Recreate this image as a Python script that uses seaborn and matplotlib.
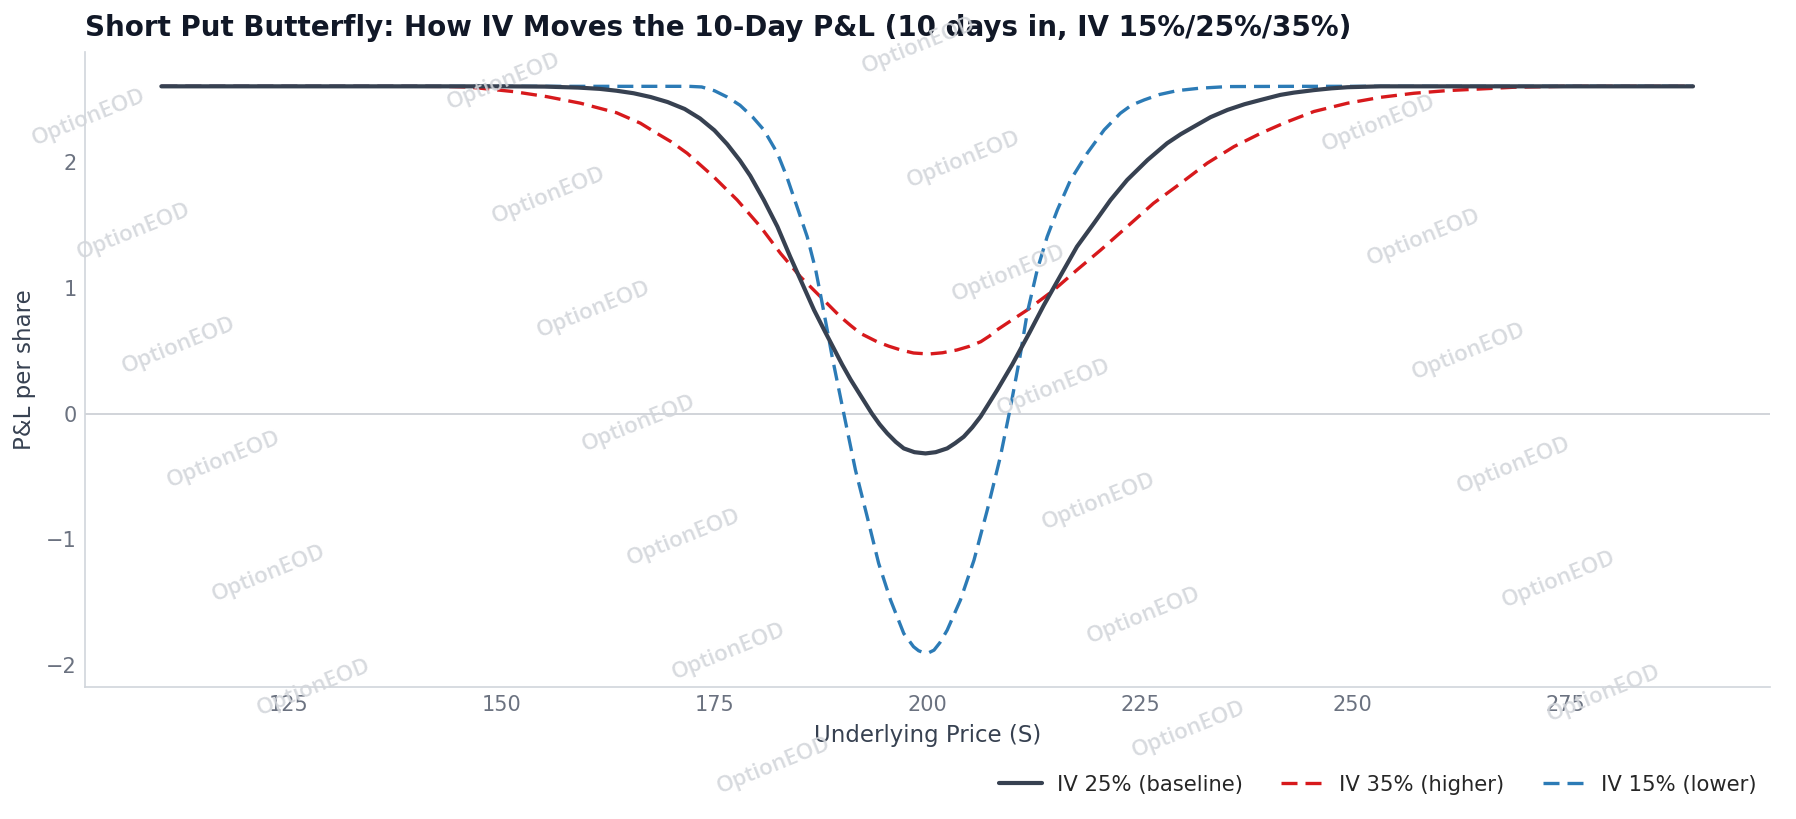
import numpy as np
import pandas as pd
import matplotlib
matplotlib.use("Agg")
import matplotlib.pyplot as plt
import seaborn as sns

# ---------------- data ----------------
title = "Short Put Butterfly: How IV Moves the 10-Day P&L (10 days in, IV 15%/25%/35%)"
x_label = "Underlying Price (S)"
y_label = "P&L per share"
series_labels = ["IV 25% (baseline)", "IV 35% (higher)", "IV 15% (lower)"]
x_ticks = [125, 150, 175, 200, 225, 250, 275]
y_ticks = [-2, -1, 0, 1, 2]

s_iv25 = [110, 150, 155, 159, 161.5, 163.5, 165.5, 167.5, 169.5, 171.5, 173.3, 175.0,
          176.5, 178.0, 179.2, 180.8, 182.4, 183.9, 185.3, 186.7, 188.0, 189.0, 190.0,
          191.0, 192.2, 193.5, 194.4, 195.3, 196.3, 197.25, 198.5, 199.8, 201.0, 202.35,
          203.3, 204.3, 205.3, 206.27, 207.2, 208.23, 210.0, 212.0, 213.7, 215.7, 217.6,
          219.6, 221.55, 223.5, 225.9, 228.2, 229.8, 231.35, 233.3, 235.3, 237.3, 239.2,
          241.5, 243.1, 245.45, 247.5, 249.4, 253.3, 290]
pnl_iv25 = [2.60, 2.60, 2.598, 2.59, 2.58, 2.565, 2.545, 2.515, 2.475, 2.42, 2.345, 2.25,
            2.14, 2.01, 1.89, 1.697, 1.485, 1.246, 1.035, 0.823, 0.65, 0.52, 0.39,
            0.27, 0.14, 0.0, -0.085, -0.157, -0.225, -0.277, -0.307, -0.317, -0.307, -0.277,
            -0.235, -0.184, -0.11, -0.025, 0.075, 0.187, 0.39, 0.64, 0.86, 1.10, 1.326,
            1.512, 1.697, 1.856, 2.015, 2.148, 2.22, 2.28, 2.355, 2.413, 2.458, 2.492,
            2.532, 2.55, 2.57, 2.584, 2.593, 2.60, 2.60]

s_iv35 = [110, 140, 143.5, 145.9, 147.5, 151.4, 155.3, 159.25, 163.5, 166.3, 167.9, 169.9,
          171.8, 174.9, 177.67, 180.4, 182.76, 185.1, 187.46, 189.8, 191.0, 192.16, 194.1,
          195.5, 196.9, 198.4, 200.2, 201.8, 203.5, 205.0, 206.3, 207.3, 208.2, 210.0,
          211.76, 214.9, 217.6, 220.4, 223.5, 226.6, 229.8, 232.9, 236.05, 239.2, 242.0,
          245.45, 249.4, 253.3, 257.2, 261.1, 265.0, 269.0, 274.8, 290]
pnl_iv35 = [2.60, 2.60, 2.599, 2.595, 2.585, 2.558, 2.518, 2.466, 2.39, 2.307, 2.24, 2.16,
            2.068, 1.882, 1.697, 1.485, 1.273, 1.087, 0.928, 0.769, 0.70, 0.637, 0.571,
            0.535, 0.505, 0.481, 0.473, 0.483, 0.505, 0.535, 0.571, 0.615, 0.664, 0.745,
            0.823, 0.982, 1.141, 1.30, 1.485, 1.671, 1.83, 1.989, 2.121, 2.227, 2.31,
            2.40, 2.466, 2.513, 2.545, 2.566, 2.579, 2.593, 2.60, 2.60]

s_iv15 = [110, 172.0, 173.5, 175.0, 176.5, 178.0, 179.5, 180.8, 182.4, 183.5, 184.7, 185.9,
          186.9, 187.66, 188.4, 188.83, 190.2, 191.57, 192.95, 194.3, 195.7, 197.25, 198.4,
          199.0, 199.6, 200.2, 200.8, 201.5, 202.35, 203.9, 205.5, 207.06, 208.6, 209.8,
          210.9, 211.76, 212.93, 214.1, 215.3, 216.85, 218.8, 220.8, 222.7, 224.0, 225.5,
          227.3, 229.4, 232.0, 235.3, 243.0, 290]
pnl_iv15 = [2.60, 2.60, 2.595, 2.565, 2.515, 2.45, 2.355, 2.254, 2.068, 1.882, 1.644, 1.405,
            1.141, 0.876, 0.611, 0.452, 0.0, -0.449, -0.820, -1.191, -1.483, -1.748, -1.853,
            -1.885, -1.90, -1.90, -1.88, -1.82, -1.721, -1.483, -1.165, -0.767, -0.343, 0.054,
            0.45, 0.80, 1.141, 1.405, 1.618, 1.856, 2.068, 2.254, 2.386, 2.45, 2.492,
            2.535, 2.566, 2.585, 2.598, 2.60, 2.60]

watermark_text = "OptionEOD"

# ---------------- styling ----------------
W, H, DPI = 1796, 819, 100
C_DARK = "#374151"
C_RED = "#d7191c"
C_BLUE = "#2c7bb6"
C_TITLE = "#111827"
C_LABEL = "#374151"
C_TICK = "#6b7280"
C_SPINE = "#d1d5db"
DASH = (0, (4.8, 2.4))

sns.set_theme(style="white")
plt.rcParams["font.family"] = ["DejaVu Sans"]

fig = plt.figure(figsize=(W / DPI, H / DPI), dpi=DPI)
ax = fig.add_axes([0.0472, 0.161, 0.9381, 0.776])
ax.patch.set_alpha(0)

df25 = pd.DataFrame({"S": s_iv25, "pnl": pnl_iv25})
df35 = pd.DataFrame({"S": s_iv35, "pnl": pnl_iv35})
df15 = pd.DataFrame({"S": s_iv15, "pnl": pnl_iv15})

sns.lineplot(data=df35, x="S", y="pnl", ax=ax, color=C_RED, lw=2.4,
             linestyle=DASH, label=series_labels[1], zorder=3, sort=False)
sns.lineplot(data=df15, x="S", y="pnl", ax=ax, color=C_BLUE, lw=2.4,
             linestyle=DASH, label=series_labels[2], zorder=3, sort=False)
sns.lineplot(data=df25, x="S", y="pnl", ax=ax, color=C_DARK, lw=3.0,
             label=series_labels[0], zorder=4, sort=False)

ax.axhline(0, color="#c9cdd3", lw=1.2, zorder=1)

ax.set_xticks(x_ticks)
ax.set_yticks(y_ticks)
ax.set_xlim(101, 299)
ax.set_ylim(-2.174, 2.876)
ax.tick_params(axis="both", labelsize=15, colors=C_TICK, length=0, pad=6)
ax.set_xlabel(x_label, fontsize=16.5, color=C_LABEL, labelpad=6)
ax.set_ylabel(y_label, fontsize=16.5, color=C_LABEL, labelpad=7)
ax.set_title(title, loc="left", fontsize=20, fontweight="bold", color=C_TITLE, pad=11)
for side in ["top", "right"]:
    ax.spines[side].set_visible(False)
for side in ["left", "bottom"]:
    ax.spines[side].set_color(C_SPINE)
    ax.spines[side].set_linewidth(1.2)

handles, labels = ax.get_legend_handles_labels()
order = [labels.index(l) for l in series_labels]
ax.get_legend().remove()
fig.legend([handles[i] for i in order], [labels[i] for i in order],
           loc="center right", bbox_to_anchor=(0.9885, 0.042), ncol=3, frameon=False,
           fontsize=15.2, handlelength=2.0, columnspacing=1.8, handletextpad=0.75)

# watermark tiling
for i in range(-1, 6):
    for j in range(-2, 9):
        cx = 89 + 415 * i + 45 * j
        cy = 118 - 36 * i + 114 * j
        if 60 < cx < W - 60 and 25 < cy < H - 25:
            fig.text(cx / W, 1 - cy / H, watermark_text, fontsize=16,
                     family=["Open Sans", "DejaVu Sans"], fontweight="semibold",
                     color="#d3d6db", alpha=0.9, rotation=22,
                     ha="center", va="center", zorder=10)

fig.savefig("out.png", dpi=DPI)
